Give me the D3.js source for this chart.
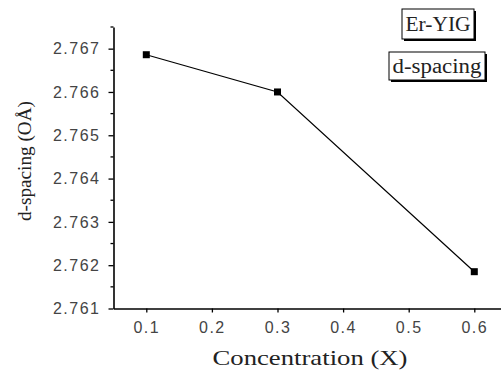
<!DOCTYPE html>
<html>
  <head>
    <title>d-spacing</title>
    <script src="https://cdn.jsdelivr.net/npm/d3@7"></script>
    <style>
      body { margin: 0; background: #fff; }
    </style>
  </head>
  <body>
    <svg width="501" height="370" id="mainsvg"></svg>
    <script>
      // data
      const concentration = [0.1, 0.3, 0.6];
      const dSpacing = [2.76686, 2.766, 2.76185];
      const xTicks = [0.1, 0.2, 0.3, 0.4, 0.5, 0.6];
      const yTicks = [2.761, 2.762, 2.763, 2.764, 2.765, 2.766, 2.767];
      const yMinor = [2.7615, 2.7625, 2.7635, 2.7645, 2.7655, 2.7665, 2.7675];
      const legendLabels = ["Er-YIG", "d-spacing"];

      const svg = d3.select("#mainsvg");
      const plotLeft = 113.5, plotBottom = 308.5, plotTop = 27;

      // x axis runs off the right edge, like the reference crop
      const x = d3.scaleLinear().domain([0.05, 0.65]).range([plotLeft, plotLeft + 6 * 65.6]);
      const y = d3.scaleLinear().domain([2.761, 2.7675]).range([plotBottom, plotTop]);

      const tickFont = "'Liberation Sans', Arial, sans-serif";
      const serif = "'Liberation Serif', 'Times New Roman', serif";

      // x axis
      const gx = svg.append("g")
        .attr("transform", `translate(0, ${plotBottom})`)
        .call(d3.axisBottom(x).tickValues(xTicks).tickSize(4).tickPadding(9).tickSizeOuter(0)
          .tickFormat(d3.format(".1f")));
      gx.select(".domain").attr("stroke-width", 1.6);
      gx.selectAll(".tick line").attr("stroke-width", 1.3);
      gx.selectAll("text")
        .attr("font-family", tickFont).attr("font-size", 16)
        .attr("letter-spacing", 1.5).attr("fill", "#444");

      // y axis
      const gy = svg.append("g")
        .attr("transform", `translate(${plotLeft}, 0)`)
        .call(d3.axisLeft(y).tickValues(yTicks).tickSize(5).tickPadding(8).tickSizeOuter(0)
          .tickFormat(d3.format(".3f")));
      gy.select(".domain").attr("stroke-width", 1.6);
      gy.selectAll(".tick line").attr("stroke-width", 1.3);
      gy.selectAll("text")
        .attr("font-family", tickFont).attr("font-size", 16)
        .attr("letter-spacing", 1.5).attr("fill", "#444");

      // y minor ticks
      svg.append("g")
        .selectAll("line")
        .data(yMinor)
        .join("line")
        .attr("x1", plotLeft - 3).attr("x2", plotLeft)
        .attr("y1", (d) => y(d)).attr("y2", (d) => y(d))
        .attr("stroke", "#000").attr("stroke-width", 1.3);

      // axis titles
      svg.append("text")
        .attr("x", 310).attr("y", 365)
        .attr("text-anchor", "middle")
        .attr("font-family", serif).attr("font-size", 21)
        .attr("textLength", 195).attr("lengthAdjust", "spacingAndGlyphs")
        .attr("fill", "#222")
        .text("Concentration (X)");

      svg.append("text")
        .attr("transform", "translate(31, 161) rotate(-90)")
        .attr("text-anchor", "middle")
        .attr("font-family", serif).attr("font-size", 18)
        .attr("textLength", 120).attr("lengthAdjust", "spacingAndGlyphs")
        .attr("fill", "#222")
        .text("d-spacing (OÅ)");

      // line + square markers
      const pts = concentration.map((c, i) => [c, dSpacing[i]]);
      svg.append("path")
        .datum(pts)
        .attr("fill", "none").attr("stroke", "#000").attr("stroke-width", 1.2)
        .attr("d", d3.line().x((d) => x(d[0])).y((d) => y(d[1])));

      svg.append("g")
        .selectAll("rect")
        .data(pts)
        .join("rect")
        .attr("x", (d) => x(d[0]) - 3.5).attr("y", (d) => y(d[1]) - 3.5)
        .attr("width", 7).attr("height", 7)
        .attr("fill", "#000");

      // legend boxes with a drop shadow edge
      const boxes = [
        { x: 402, y: 9, w: 72, h: 30, tl: 65 },
        { x: 389, y: 52, w: 96, h: 28, tl: 89 }
      ];
      const lg = svg.append("g")
        .selectAll("g")
        .data(legendLabels)
        .join("g");
      lg.append("rect")
        .attr("x", (d, i) => boxes[i].x + 2).attr("y", (d, i) => boxes[i].y + 2)
        .attr("width", (d, i) => boxes[i].w).attr("height", (d, i) => boxes[i].h)
        .attr("fill", "#000");
      lg.append("rect")
        .attr("x", (d, i) => boxes[i].x).attr("y", (d, i) => boxes[i].y)
        .attr("width", (d, i) => boxes[i].w).attr("height", (d, i) => boxes[i].h)
        .attr("fill", "#fff").attr("stroke", "#000").attr("stroke-width", 1);
      lg.append("text")
        .attr("x", (d, i) => boxes[i].x + boxes[i].w / 2)
        .attr("y", (d, i) => boxes[i].y + boxes[i].h / 2 + 7)
        .attr("text-anchor", "middle")
        .attr("font-family", serif).attr("font-size", 20)
        .attr("textLength", (d, i) => boxes[i].tl).attr("lengthAdjust", "spacingAndGlyphs")
        .attr("fill", "#222")
        .text((d) => d);
    </script>
  </body>
</html>
